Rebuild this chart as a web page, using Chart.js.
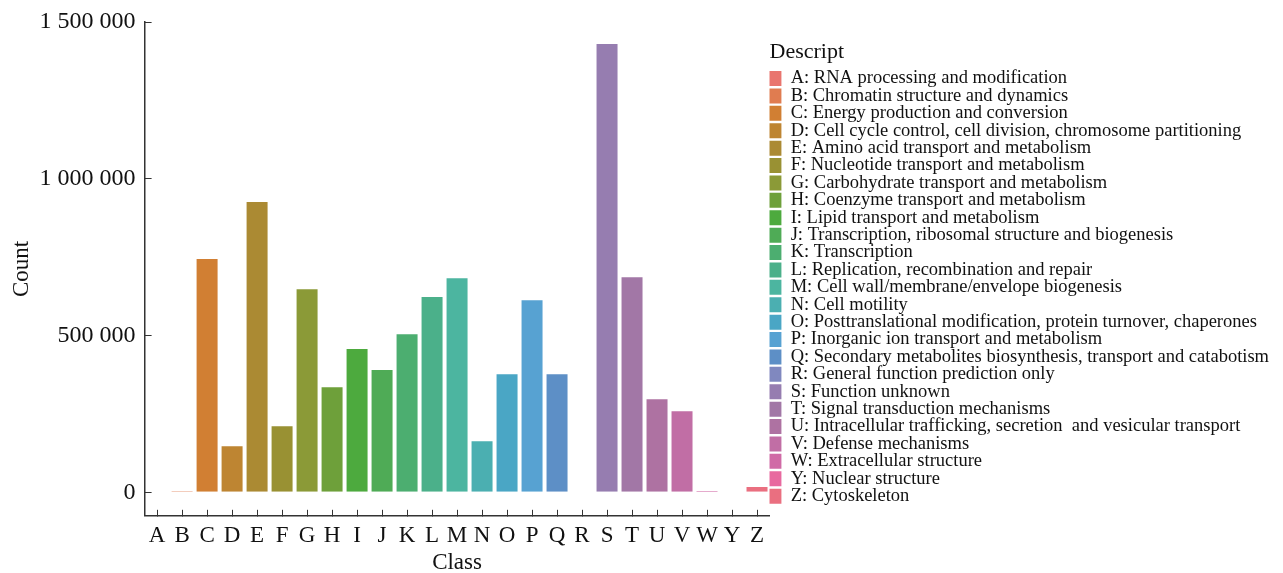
<!DOCTYPE html>
<html>
<head>
<meta charset="utf-8">
<script src="https://cdn.jsdelivr.net/npm/chart.js@4/dist/chart.umd.min.js"></script>
<style>
  html, body { margin: 0; padding: 0; background: #fff; }
  #wrap { width: 1283px; height: 573px; position: relative; }
</style>
</head>
<body>
<div id="wrap"><canvas id="cog"></canvas></div>
<script>
const classes = ['A','B','C','D','E','F','G','H','I','J','K','L','M','N','O','P','Q','R','S','T','U','V','W','Y','Z']
const descriptions = [
  'A: RNA processing and modification',
  'B: Chromatin structure and dynamics',
  'C: Energy production and conversion',
  'D: Cell cycle control, cell division, chromosome partitioning',
  'E: Amino acid transport and metabolism',
  'F: Nucleotide transport and metabolism',
  'G: Carbohydrate transport and metabolism',
  'H: Coenzyme transport and metabolism',
  'I: Lipid transport and metabolism',
  'J: Transcription, ribosomal structure and biogenesis',
  'K: Transcription',
  'L: Replication, recombination and repair',
  'M: Cell wall/membrane/envelope biogenesis',
  'N: Cell motility',
  'O: Posttranslational modification, protein turnover, chaperones',
  'P: Inorganic ion transport and metabolism',
  'Q: Secondary metabolites biosynthesis, transport and catabotism',
  'R: General function prediction only',
  'S: Function unknown',
  'T: Signal transduction mechanisms',
  'U: Intracellular trafficking, secretion  and vesicular transport',
  'V: Defense mechanisms',
  'W: Extracellular structure',
  'Y: Nuclear structure',
  'Z: Cytoskeleton'
]
const counts = [2000,5000,747000,150000,929000,214000,651000,338000,460000,393000,507000,626000,686000,166000,380000,616000,380000,0,1433000,689000,300000,262000,7000,0,20000]
const colors = ['#E9756E','#E07C50','#D17F33','#BE8532','#AB8A33','#999133','#8B9A37','#6EA03A','#4DAA3E','#4FAB56',
                '#4CAE70','#4BB08A','#4CB5A0','#4BAFB1','#4AA6C5','#57A2D2','#5D8FC6','#8088BF','#967DB0','#A277A6',
                '#AE72A2','#C16EA5','#D06AA6','#E8699F','#EA6F80']
const yTicks = [0,500000,1000000,1500000]

const serif = "'Liberation Serif', 'Times New Roman', serif"
const fmt = v => String(v).replace(/\B(?=(\d{3})+(?!\d))/g,' ')

const ctx = document.getElementById('cog').getContext('2d')
const cog = new Chart(ctx,{
    type:'bar',
    data:{
        labels:classes,
        datasets:[{
            data:counts,
            backgroundColor:colors,
            borderColor:'rgba(255,255,255,0.55)',
            borderWidth:1,
            categoryPercentage:0.92,
            barPercentage:1
        }]
    },
    options:{
        responsive:true,
        maintainAspectRatio:false,
        animation:false,
        layout:{padding:{top:0,left:4,bottom:-4,right:4}},
        scales:{
            x:{
                grid:{display:true,offset:false,drawOnChartArea:false,drawTicks:true,tickLength:-6,color:'#333',lineWidth:1},
                border:{display:true,color:'#333',width:1.5},
                ticks:{color:'#111',font:{family:serif,size:23},padding:12,maxRotation:0,autoSkip:false},
                title:{display:true,text:'Class',color:'#111',font:{family:serif,size:23},padding:{top:-12,bottom:0}}
            },
            y:{
                min:-75000,
                max:1500000,
                afterBuildTicks:axis=>{ axis.ticks = yTicks.map(v=>({value:v})) },
                grid:{display:true,drawOnChartArea:false,drawTicks:true,tickLength:-7,color:'#333',lineWidth:1},
                border:{display:true,color:'#333',width:1.5},
                ticks:{color:'#111',font:{family:serif,size:24,lineHeight:0.5},padding:16,callback:v=>fmt(v)},
                title:{display:true,text:'Count',color:'#111',font:{family:serif,size:23},padding:{top:4,bottom:-12}}
            }
        },
        plugins:{
            tooltip:{enabled:false},
            legend:{
                display:true,
                position:'right',
                align:'start',
                maxWidth:530,
                title:{display:true,text:'Descript',color:'#111',font:{family:serif,size:22},padding:{top:41,bottom:3},position:'start'},
                labels:{
                    font:{family:serif,size:18.5},
                    color:'#111',
                    boxWidth:13,
                    boxHeight:15,
                    padding:-1.1,
                    generateLabels:()=>descriptions.map((d,i)=>({
                        text:d,
                        fillStyle:colors[i],
                        strokeStyle:'#fff',
                        lineWidth:0,
                        hidden:false,
                        index:i
                    }))
                },
                onClick:()=>{}
            }
        }
    }
})
</script>
</body>
</html>
